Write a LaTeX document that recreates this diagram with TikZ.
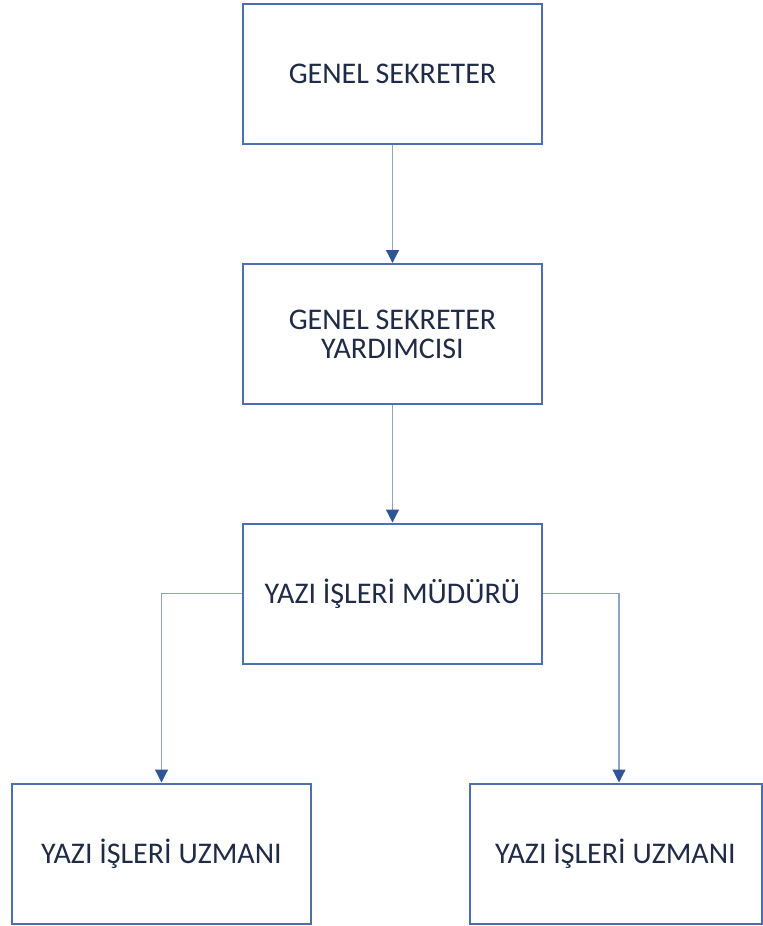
\documentclass[tikz,border=0pt]{standalone}
\usepackage{fontspec}
\setmainfont{Carlito}
\usetikzlibrary{arrows.meta}
\definecolor{boxblue}{HTML}{4A6FB5}
\definecolor{lineblue}{HTML}{8EA3C6}
\definecolor{tipblue}{HTML}{2F5597}
\definecolor{textnavy}{HTML}{1F2B47}
\tikzset{
  unit/.style={draw=boxblue, line width=1pt, fill=white, text=textnavy,
    minimum width=149.5pt, minimum height=70pt, align=center,
    font=\fontsize{15}{14.5}\selectfont},
  link/.style={draw=lineblue, line width=0.6pt,
    -{Triangle[length=6.5pt,width=6.5pt,fill=tipblue,color=tipblue]}}
}

\begin{document}
\begin{tikzpicture}[x=0.5pt,y=-0.5pt]

        \useasboundingbox (0,0) rectangle (763,926);

        % top of the chart
        \node [unit] (sekreter) at (392.5,74) {GENEL SEKRETER};

        \node [unit] (yardimci) at (392.5,334) {GENEL SEKRETER\\YARDIMCISI};

        \node [unit] (mudur) at (392.5,593.5) {YAZI İŞLERİ MÜDÜRÜ};

        % bottom row
        \node [unit] (uzmanA) at (161.5,853.5) {YAZI İŞLERİ UZMANI};

        \node [unit, minimum width=146pt] (uzmanB) at (615.5,853.5) {YAZI İŞLERİ UZMANI};

        \draw [link] (sekreter) -- (yardimci);
        \draw [link] (yardimci) -- (mudur);
        \draw [link] (mudur.west) -| (uzmanA.north);
        \draw [link] (mudur.east) -| ([xshift=1.75pt]uzmanB.north);

\end{tikzpicture}
\end{document}
